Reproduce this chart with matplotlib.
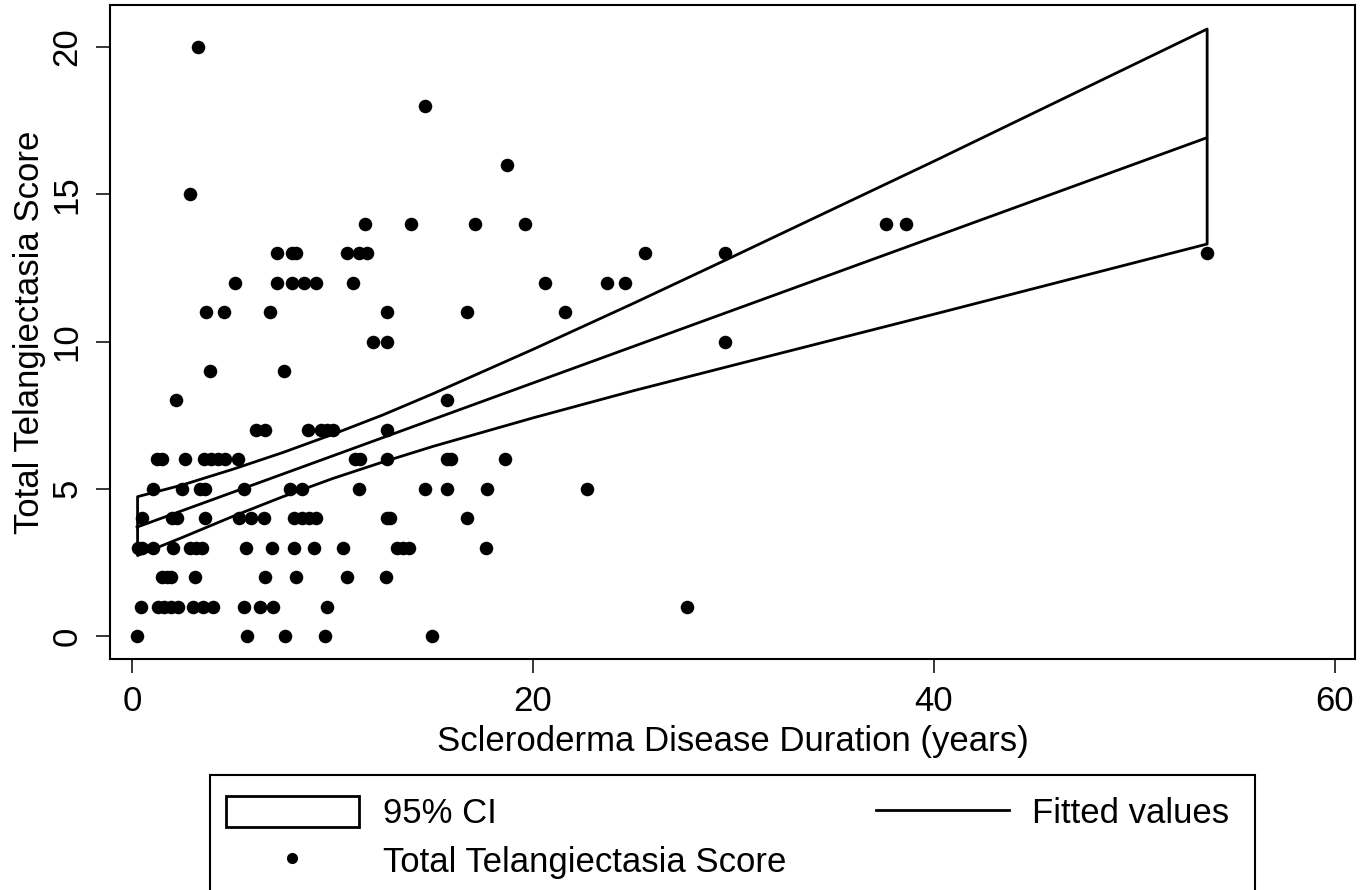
import numpy as np
import matplotlib.pyplot as plt
from matplotlib.patches import Patch, Rectangle
from matplotlib.lines import Line2D

plt.rcParams['font.family'] = ['Liberation Sans', 'DejaVu Sans']

# Scatter data, grouped by score
x_20 = [3.3]
x_18 = [14.6]
x_16 = [18.7]
x_15 = [2.9]
x_14 = [11.6, 13.9, 17.1, 19.6, 37.6, 38.6]
x_13 = [7.25, 8.0, 8.2, 10.7, 11.3, 11.7, 25.6, 29.6, 53.6]
x_12 = [5.15, 7.25, 8.0, 8.6, 9.2, 11.0, 20.6, 23.7, 24.6]
x_11 = [3.7, 4.6, 6.9, 12.7, 16.7, 21.6]
x_10 = [12.0, 12.7, 29.6]
x_9 = [3.9, 7.6]
x_8 = [2.2, 15.7]
x_7 = [6.2, 6.65, 8.8, 9.4, 9.7, 10.0, 12.7]
x_6 = [1.23, 1.48, 2.65, 3.6, 3.95, 4.3, 4.65, 5.3, 11.1, 11.35, 12.7, 15.7, 15.9, 18.6]
x_5 = [1.06, 2.5, 3.4, 3.65, 5.6, 7.9, 8.5, 11.3, 14.6, 15.7, 17.7, 22.7]
x_4 = [0.5, 1.98, 2.23, 3.65, 5.35, 5.95, 6.6, 8.1, 8.5, 8.85, 9.2, 12.7, 12.85, 16.7]
x_3 = [0.3, 0.5, 1.02, 2.06, 2.9, 3.2, 3.5, 5.67, 7.0, 8.1, 9.1, 10.5, 13.2, 13.5, 13.8, 17.65]
x_2 = [1.5, 1.75, 1.95, 3.15, 6.65, 8.2, 10.7, 12.65]
x_1 = [0.45, 1.3, 1.6, 1.95, 2.3, 3.05, 3.55, 4.05, 5.6, 6.4, 7.05, 9.7, 27.7]
x_0 = [0.27, 5.72, 7.65, 9.6, 14.95]

groups = {20: x_20, 18: x_18, 16: x_16, 15: x_15, 14: x_14, 13: x_13, 12: x_12,
          11: x_11, 10: x_10, 9: x_9, 8: x_8, 7: x_7, 6: x_6, 5: x_5, 4: x_4,
          3: x_3, 2: x_2, 1: x_1, 0: x_0}

duration = []
score = []
for sc, xs_ in groups.items():
    duration += xs_
    score += [sc] * len(xs_)

# Fitted line and 95% CI band
fit_x = [0.25, 53.6]
fit_y = [3.70, 16.92]
ci_x = [0.25, 2.5, 5, 7.5, 10, 12.5, 15, 20, 25, 30, 40, 53.6]
ci_hi = [4.75, 5.15, 5.68, 6.25, 6.87, 7.53, 8.25, 9.76, 11.32, 12.92, 16.15, 20.63]
ci_lo = [2.75, 3.37, 4.08, 4.75, 5.37, 5.93, 6.46, 7.43, 8.35, 9.22, 10.95, 13.33]

W, H = 1371, 890
fig = plt.figure(figsize=(W / 100, H / 100), dpi=100)
ax = fig.add_axes([110 / W, 1 - 659 / H, 1245 / W, 654 / H])

# CI band (outline only), fitted line, points
ax.fill_between(ci_x, ci_lo, ci_hi, facecolor='white', edgecolor='black',
                linewidth=2.0, zorder=1)
ax.plot(fit_x, fit_y, color='black', linewidth=2.0, zorder=2)
ax.scatter(duration, score, s=95, color='black', linewidths=0, zorder=3)

ax.set_xlim(-1.1, 61.0)
ax.set_ylim(-0.78, 21.43)
ax.set_xticks([0, 20, 40, 60])
ax.set_yticks([0, 5, 10, 15, 20])
ax.tick_params(direction='out', length=10, width=1.1, labelsize=25, pad=9)
ax.tick_params(axis='y', labelrotation=90)
for lab in ax.get_yticklabels():
    lab.set_va('center')
for sp in ax.spines.values():
    sp.set_linewidth(1.5)

ax.set_xlabel('Scleroderma Disease Duration (years)', fontsize=25, labelpad=5)
ax.set_ylabel('Total Telangiectasia Score', fontsize=25, labelpad=3)

# Legend
handles = [Patch(facecolor='white', edgecolor='black', linewidth=2.0),
           Line2D([], [], marker='o', linestyle='none', color='black', markersize=7),
           Line2D([], [], color='black', linewidth=2.0)]
labels = ['95% CI', 'Total Telangiectasia Score', 'Fitted values']
fig.legend(handles, labels, ncol=2, frameon=False, loc='upper left',
           bbox_to_anchor=(226 / W, 1 - 796 / H), borderpad=0, borderaxespad=0,
           fontsize=25, handlelength=3.83, handleheight=1.0, handletextpad=0.69,
           columnspacing=2.57, labelspacing=0.41)
fig.patches.append(Rectangle((210 / W, -0.05), 1045 / W, (1 - 775 / H) + 0.05,
                             transform=fig.transFigure, fill=False,
                             edgecolor='black', linewidth=1.5))

fig.savefig('out.png', dpi=100)
